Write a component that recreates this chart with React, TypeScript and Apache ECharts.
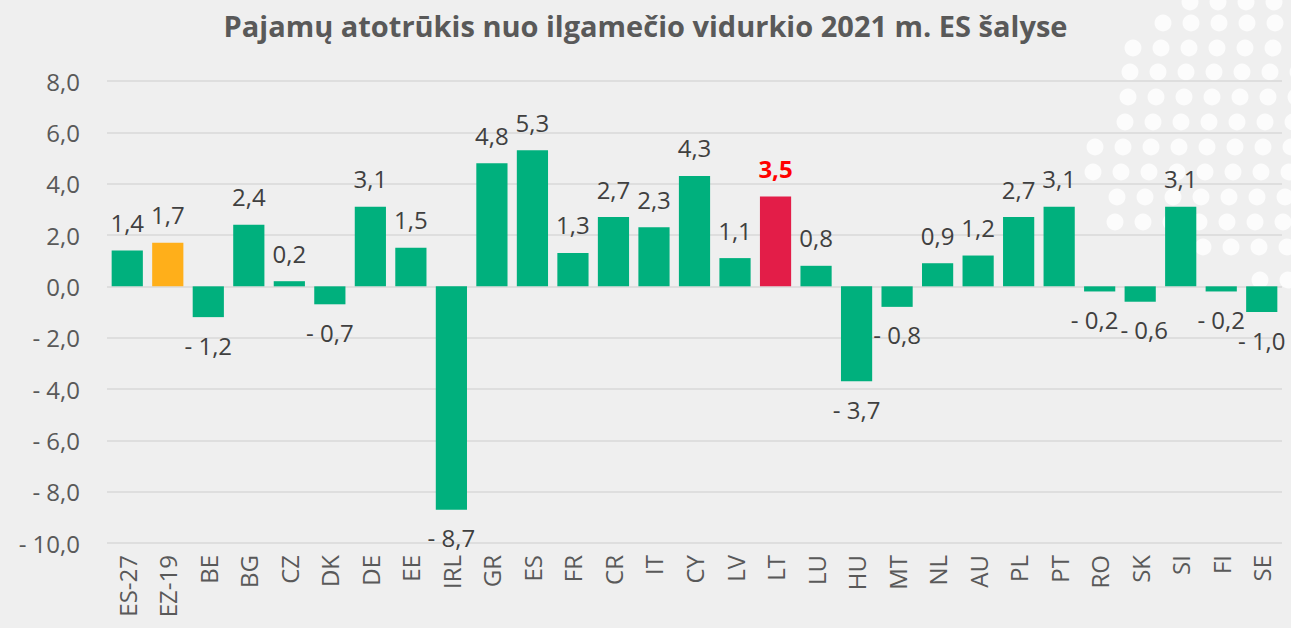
import React, { useEffect, useRef } from "react";
import * as echarts from "echarts";

const categories = [
  "ES-27", "EZ-19", "BE", "BG", "CZ", "DK", "DE", "EE", "IRL", "GR", "ES", "FR", "CR", "IT", "CY",
  "LV", "LT", "LU", "HU", "MT", "NL", "AU", "PL", "PT", "RO", "SK", "SI", "FI", "SE",
];
const values = [
  1.4, 1.7, -1.2, 2.4, 0.2, -0.7, 3.1, 1.5, -8.7, 4.8, 5.3, 1.3, 2.7, 2.3, 4.3,
  1.1, 3.5, 0.8, -3.7, -0.8, 0.9, 1.2, 2.7, 3.1, -0.2, -0.6, 3.1, -0.2, -1.0,
];
const orangeCategory = "EZ-19";
const redCategory = "LT";

const GREEN = "#00B07D";
const ORANGE = "#FFAF1A";
const RED = "#E31D48";
const FONT = "'Open Sans', 'Noto Sans', sans-serif";

// small label nudges to keep crowded labels legible
const labelNudge: Record<string, number> = { RO: -5, SK: 4 };

// decorative dot pattern rows: [y, startX]
const dotRows: [number, number][] = [
  [2, 1190], [23, 1163], [48, 1133], [72, 1130], [97, 1128], [122, 1125],
  [147, 1095], [172, 1093], [197, 1117], [222, 1115], [247, 1203], [280, 1260],
];

const fmt = (v: number) => (v < 0 ? "- " : "") + Math.abs(v).toFixed(1).replace(".", ",");

export default function App() {
  const ref = useRef<HTMLDivElement>(null);
  useEffect(() => {
    if (!ref.current) return;
    const chart = echarts.init(ref.current, undefined, { renderer: "svg" });
    const dots: any[] = [];
    dotRows.forEach(([y, sx]) => {
      for (let x = sx; x < 1300; x += 28) {
        dots.push({ type: "circle", shape: { cx: x, cy: y, r: 8.5 }, style: { fill: "#ffffff", opacity: 0.8 }, silent: true });
      }
    });
    const data = values.map((v, i) => {
      const c = categories[i];
      const color = c === orangeCategory ? ORANGE : c === redCategory ? RED : GREEN;
      const isRed = c === redCategory;
      return {
        value: v,
        itemStyle: { color },
        label: {
          position: v < 0 ? "bottom" : "top",
          offset: [labelNudge[c] || 0, 0],
          color: isRed ? "#FF0000" : "#404040",
          fontWeight: isRed ? "bold" : "normal",
        },
      };
    });
    chart.setOption({
      animation: false,
      backgroundColor: "#EFEFEF",
      title: {
        text: "Pajamų atotrūkis nuo ilgamečio vidurkio 2021 m. ES šalyse",
        left: "center",
        top: 6,
        textStyle: { fontFamily: FONT, fontSize: 29, fontWeight: "bold", color: "#595959" },
      },
      graphic: { elements: [{ type: "group", z: -10, silent: true, children: dots }] },
      grid: { left: 107, right: 9, top: 81, bottom: 85, outerBoundsMode: "none", containLabel: false },
      xAxis: {
        type: "category",
        data: categories,
        axisTick: { show: false },
        axisLine: { show: false, onZero: false },
        axisLabel: { rotate: 90, interval: 0, margin: 12, fontFamily: FONT, fontSize: 24, color: "#595959" },
      },
      yAxis: {
        type: "value",
        min: -10,
        max: 8,
        interval: 2,
        axisLine: { show: false },
        axisTick: { show: false },
        splitLine: { lineStyle: { color: "#D9D9D9", width: 1.5 } },
        axisLabel: { margin: 27, fontFamily: FONT, fontSize: 24, color: "#595959", formatter: (v: number) => fmt(v) },
      },
      series: [
        {
          type: "bar",
          data,
          barCategoryGap: "23%",
          label: {
            show: true,
            distance: 16,
            fontFamily: FONT,
            fontSize: 24,
            formatter: (p: any) => fmt(p.value),
          },
        },
      ],
    });
    return () => chart.dispose();
  }, []);
  return <div ref={ref} style={{ width: 1291, height: 628, position: "absolute", left: 0, top: 0 }} />;
}
